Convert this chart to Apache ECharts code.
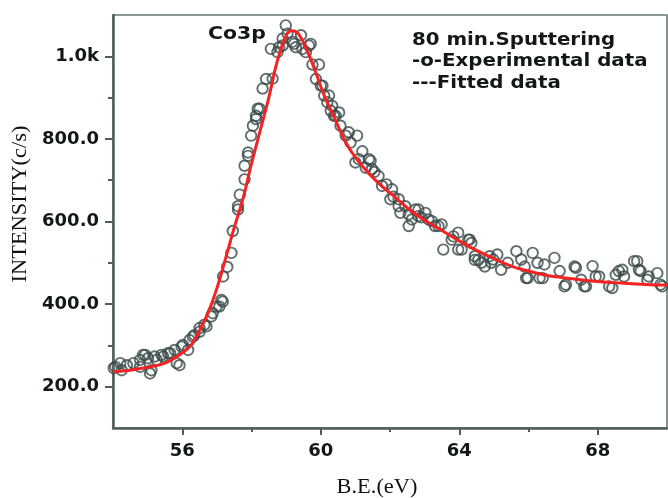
<!DOCTYPE html>
<html>
<head>
<meta charset="utf-8">
<script src="https://cdn.jsdelivr.net/npm/echarts@6/dist/echarts.min.js"></script>
<style>
html,body{margin:0;padding:0;background:#fff;}
#chart{width:668px;height:498px;}
</style>
</head>
<body>
<div id="chart"></div>
<script>
// ---- data ----
var expX = [54.02,54.07,54.21,54.25,54.40,54.59,54.78,54.78,54.87,54.93,55.01,55.07,55.11,55.20,55.26,55.40,55.45,55.59,55.65,55.78,55.84,55.92,55.98,56.02,56.17,56.21,56.31,56.35,56.50,56.50,56.64,56.70,56.84,56.88,56.99,57.07,57.13,57.17,57.18,57.30,57.42,57.46,57.61,57.61,57.66,57.80,57.80,57.90,57.90,57.99,58.04,58.13,58.13,58.18,58.23,58.32,58.42,58.56,58.61,58.75,58.80,58.90,58.90,58.99,59.04,59.18,59.23,59.28,59.43,59.47,59.57,59.66,59.71,59.76,59.86,59.95,60.00,60.05,60.10,60.19,60.24,60.29,60.33,60.38,60.43,60.53,60.57,60.72,60.81,60.86,61.00,61.05,61.10,61.20,61.30,61.39,61.44,61.48,61.55,61.67,61.77,61.90,62.01,62.06,62.10,62.25,62.25,62.30,62.44,62.54,62.54,62.63,62.73,62.82,62.82,62.90,63.02,63.11,63.21,63.30,63.40,63.49,63.54,63.78,63.83,63.97,63.97,64.07,64.26,64.30,64.35,64.45,64.45,64.55,64.64,64.74,64.88,64.93,64.98,65.10,65.21,65.40,65.65,65.79,65.89,65.93,65.98,66.12,66.26,66.32,66.41,66.46,66.75,66.90,67.04,67.08,67.33,67.37,67.52,67.61,67.66,67.85,67.94,68.04,68.33,68.42,68.52,68.61,68.71,68.76,69.05,69.14,69.19,69.24,69.43,69.47,69.72,69.81,69.86];
var expY = [245,248,257,240,252,257,248,265,277,277,269,232,240,273,265,277,273,281,281,289,257,252,297,301,289,313,321,325,333,342,350,346,370,378,394,394,410,406,467,490,524,577,637,629,665,702,735,759,767,808,832,856,848,873,873,922,945,1018,946,1010,1022,1026,1043,1075,1055,1035,1030,1022,1051,1018,1010,1026,1030,980,945,980,929,929,905,889,905,868,880,856,856,864,832,808,816,791,743,808,751,770,730,751,747,727,720,710,686,690,654,678,660,654,637,621,637,617,589,605,629,629,613,610,621,605,601,589,589,593,532,556,564,573,532,532,556,556,548,507,516,507,500,491,516,500,508,520,483,500,528,508,491,463,463,524,500,463,463,496,512,480,443,447,491,488,459,443,443,492,467,467,443,439,471,480,483,467,504,504,483,480,459,467,475,447,443];

var fitX = [54.0,54.5,55.0,55.5,56.0,56.25,56.5,56.75,57.0,57.25,57.5,57.75,58.0,58.25,58.5,58.75,59.0,59.15,59.35,59.6,59.85,60.1,60.4,60.7,61.0,61.4,61.8,62.2,62.6,63.0,63.5,64.0,64.5,65.0,65.5,66.0,66.5,67.0,67.5,68.0,68.5,69.0,69.5,70.0];
var fitY = [236,240,247,257,282,300,336,380,438,510,585,654,740,820,900,990,1050,1062,1055,1015,962,905,850,795,755,715,683,655,626,603,578,553,530,510,492,480,470,464,459,455,452,449,447,446];

var xTickValues = [56,60,64,68];
var xTickLabels = ['56','60','64','68'];
var xMinorValues = [58,62,66];
var yTickValues = [200,400,600,800,1000];
var yTickLabels = ['200.0','400.0','600.0','800.0','1.0k'];
var yMinorValues = [300,500,700,900];

var xTitle = 'B.E.(eV)';
var yTitle = 'INTENSITY(c/s)';
var peakLabel = 'Co3p';
var noteLines = ['80 min.Sputtering','-o-Experimental data','---Fitted data'];

// ---- build ----
function zip(a,b){var r=[];for(var i=0;i<a.length;i++)r.push([a[i],b[i]]);return r;}
var axisColor = '#4f5e5b';
var textColor = '#121818';
var labelFont = {fontFamily:'"DejaVu Sans"', fontWeight:'bold', fontSize:18, color:textColor};

var chart = echarts.init(document.getElementById('chart'), null, {renderer:'canvas'});
var option = {
  animation:false,
  backgroundColor:'#fff',
  grid:{left:113, right:1, top:15, bottom:70, show:true, borderColor:'#6a7876', borderWidth:1.6, backgroundColor:'transparent'},
  xAxis:[{
    type:'value', min:54, max:70, position:'bottom',
    axisLine:{show:true, onZero:false, lineStyle:{color:axisColor, width:2.5}},
    axisTick:{show:true, length:7, customValues:xTickValues, lineStyle:{color:axisColor, width:2}},
    axisLabel:Object.assign({margin:14, customValues:xTickValues, formatter:function(v){var i=xTickValues.indexOf(v);return i>=0?xTickLabels[i]:'';}}, labelFont),
    splitLine:{show:false}
  },{
    type:'value', min:54, max:70, position:'bottom', gridIndex:0,
    axisLine:{show:false},
    axisTick:{show:true, length:4, customValues:xMinorValues, lineStyle:{color:axisColor, width:2}},
    axisLabel:{show:false}, splitLine:{show:false}
  }],
  yAxis:[{
    type:'value', min:100, max:1100, position:'left',
    axisLine:{show:true, onZero:false, lineStyle:{color:axisColor, width:2.5}},
    axisTick:{show:true, length:8, customValues:yTickValues, lineStyle:{color:axisColor, width:2}},
    axisLabel:Object.assign({margin:14, customValues:yTickValues, formatter:function(v){var i=yTickValues.indexOf(v);return i>=0?yTickLabels[i]:'';}}, labelFont),
    splitLine:{show:false}
  },{
    type:'value', min:100, max:1100, position:'left', gridIndex:0,
    axisLine:{show:false},
    axisTick:{show:true, length:5, customValues:yMinorValues, lineStyle:{color:axisColor, width:2}},
    axisLabel:{show:false}, splitLine:{show:false}
  }],
  series:[{
    type:'scatter', name:'Experimental data', xAxisIndex:0, yAxisIndex:0,
    data:zip(expX,expY), symbol:'circle', symbolSize:10.5,
    itemStyle:{color:'rgba(0,0,0,0)', borderColor:'#394a4a', borderWidth:1.9},
    z:2
  },{
    type:'line', name:'Fitted data', xAxisIndex:0, yAxisIndex:0,
    data:zip(fitX,fitY), smooth:0.4, showSymbol:false,
    lineStyle:{color:'#f42222', width:3}, z:3
  }],
  graphic:[
    {type:'text', x:208, y:35, scaleX:1.2, style:{text:peakLabel, fontFamily:'"DejaVu Sans"', fontWeight:'bold', fontSize:17, fill:textColor, textAlign:'left', textVerticalAlign:'middle'}},
    {type:'text', x:412, y:40, scaleX:1.1, style:{text:noteLines[0], fontFamily:'"DejaVu Sans"', fontWeight:'bold', fontSize:18, fill:textColor, textAlign:'left', textVerticalAlign:'middle'}},
    {type:'text', x:412, y:61.5, scaleX:1.1, style:{text:noteLines[1], fontFamily:'"DejaVu Sans"', fontWeight:'bold', fontSize:18, fill:textColor, textAlign:'left', textVerticalAlign:'middle'}},
    {type:'text', x:412, y:83, scaleX:1.1, style:{text:noteLines[2], fontFamily:'"DejaVu Sans"', fontWeight:'bold', fontSize:18, fill:textColor, textAlign:'left', textVerticalAlign:'middle'}},
    {type:'text', x:377, y:488, scaleX:1.12, style:{text:xTitle, fontFamily:'"Liberation Serif"', fontSize:20, fill:'#111', textAlign:'center', textVerticalAlign:'middle'}},
    {type:'text', x:21, y:204, rotation:Math.PI/2, scaleX:1.12, style:{text:yTitle, fontFamily:'"Liberation Serif"', fontSize:20, fill:'#111', textAlign:'center', textVerticalAlign:'middle'}}
  ]
};
chart.setOption(option);
</script>
</body>
</html>
